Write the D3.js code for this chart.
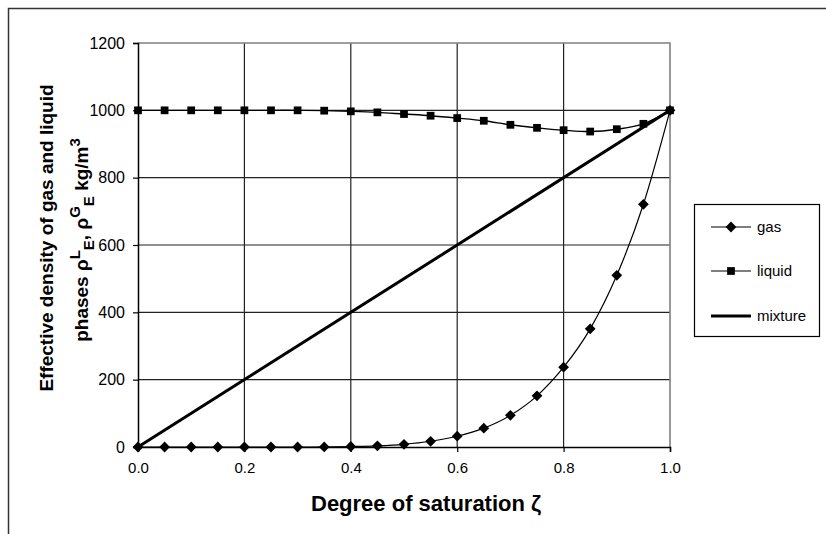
<!DOCTYPE html>
<html>
<head>
<meta charset="utf-8">
<script src="https://cdn.jsdelivr.net/npm/d3@7"></script>
<style>
  body { margin: 0; background: #fff; }
  text { font-family: Arial, "Liberation Sans", sans-serif; fill: #000; }
</style>
</head>
<body>
<div id="chart"></div>
<script>
// data
var zeta = [0, 0.05, 0.1, 0.15, 0.2, 0.25, 0.3, 0.35, 0.4, 0.45, 0.5,
            0.55, 0.6, 0.65, 0.7, 0.75, 0.8, 0.85, 0.9, 0.95, 1.0];
var gas = [0, 0, 0, 0, 0, 0, 0, 0.3, 1.5, 3.5, 8,
           17, 32, 56, 94, 152, 237, 351, 510, 721, 1000];
var liquid = [1000, 1000, 1000, 1000, 1000, 1000, 1000, 999, 997, 994, 989,
              984, 977, 969, 957, 948, 941, 937, 944, 960, 1000];
var mixtureZeta = [0, 1];
var mixture = [0, 1000];
var xTicks = [0, 0.2, 0.4, 0.6, 0.8, 1.0];
var yTicks = [0, 200, 400, 600, 800, 1000, 1200];
var seriesNames = ["gas", "liquid", "mixture"];

var W = 826, H = 534;
// plot area (note: "top" is taken by window.top)
var pLeft = 138, pRight = 670, pTop = 43, pBottom = 447;

var svg = d3.select("#chart").append("svg")
    .attr("width", W)
    .attr("height", H);

// outer chart border
svg.append("rect")
    .attr("x", 8.5).attr("y", 8.5)
    .attr("width", W + 20).attr("height", H + 20)
    .attr("fill", "none")
    .attr("stroke", "#333")
    .attr("stroke-width", 1.5);

var x = d3.scaleLinear().domain([0, 1]).range([pLeft, pRight]);
var y = d3.scaleLinear().domain([0, 1200]).range([pBottom, pTop]);

// gridlines
svg.append("g").selectAll("line")
    .data(yTicks.slice(1, -1))
    .enter().append("line")
    .attr("x1", pLeft).attr("x2", pRight)
    .attr("y1", function(d) { return y(d); })
    .attr("y2", function(d) { return y(d); })
    .attr("stroke", "#222").attr("stroke-width", 1.2);

svg.append("g").selectAll("line")
    .data(xTicks.slice(1, -1))
    .enter().append("line")
    .attr("y1", pTop).attr("y2", pBottom)
    .attr("x1", function(d) { return x(d); })
    .attr("x2", function(d) { return x(d); })
    .attr("stroke", "#222").attr("stroke-width", 1.2);

// plot frame top/right in gray
svg.append("path")
    .attr("d", "M" + pLeft + "," + pTop + "H" + pRight + "V" + pBottom)
    .attr("fill", "none")
    .attr("stroke", "#808080")
    .attr("stroke-width", 1.6);

// axes
var yAxis = d3.axisLeft(y).tickValues(yTicks).tickSize(5).tickPadding(8)
    .tickFormat(d3.format("d"));
var xAxis = d3.axisBottom(x).tickValues(xTicks).tickSize(5).tickPadding(10)
    .tickFormat(d3.format(".1f"));

var gy = svg.append("g").attr("transform", "translate(" + pLeft + ",0)").call(yAxis);
var gx = svg.append("g").attr("transform", "translate(0," + pBottom + ")").call(xAxis);

[gx, gy].forEach(function(g) {
  g.attr("font-size", null).attr("font-family", null);
  g.select(".domain").attr("stroke", "#000").attr("stroke-width", 1.5);
  g.selectAll(".tick line").attr("stroke", "#000").attr("stroke-width", 1.2);
  g.selectAll(".tick text")
    .style("font-size", "15px")
    .attr("fill", "#000");
});
gy.selectAll(".tick text").style("font-size", "16px");

// series
var lineGen = d3.line()
    .x(function(d) { return x(d[0]); })
    .y(function(d) { return y(d[1]); })
    .curve(d3.curveCatmullRom.alpha(0));

var gasPts = zeta.map(function(z, i) { return [z, gas[i]]; });
var liqPts = zeta.map(function(z, i) { return [z, liquid[i]]; });
var mixPts = mixtureZeta.map(function(z, i) { return [z, mixture[i]]; });

var diamond = d3.symbol().type(d3.symbolSquare).size(58);
var square = d3.symbol().type(d3.symbolSquare).size(60);

svg.append("path")
    .attr("d", lineGen(gasPts))
    .attr("fill", "none").attr("stroke", "#000").attr("stroke-width", 1.2);

svg.append("g").selectAll("path")
    .data(gasPts)
    .enter().append("path")
    .attr("d", diamond)
    .attr("transform", function(d) {
      return "translate(" + x(d[0]) + "," + y(d[1]) + ") rotate(45)";
    })
    .attr("fill", "#000");

svg.append("path")
    .attr("d", lineGen(liqPts))
    .attr("fill", "none").attr("stroke", "#000").attr("stroke-width", 1.4);

svg.append("g").selectAll("path")
    .data(liqPts)
    .enter().append("path")
    .attr("d", square)
    .attr("transform", function(d) {
      return "translate(" + x(d[0]) + "," + y(d[1]) + ")";
    })
    .attr("fill", "#000");

svg.append("path")
    .attr("d", d3.line()
      .x(function(d) { return x(d[0]); })
      .y(function(d) { return y(d[1]); })(mixPts))
    .attr("fill", "none").attr("stroke", "#000").attr("stroke-width", 3);

// legend
var lg = svg.append("g");
lg.append("rect")
    .attr("x", 694.5).attr("y", 204.5)
    .attr("width", 125).attr("height", 132)
    .attr("fill", "#fff").attr("stroke", "#000").attr("stroke-width", 1.2);

var legY = [227, 271, 316];
seriesNames.forEach(function(name, i) {
  var yy = legY[i];
  lg.append("line")
    .attr("x1", 711).attr("x2", 751)
    .attr("y1", yy).attr("y2", yy)
    .attr("stroke", "#000")
    .attr("stroke-width", i == 2 ? 3 : 1.2);
  if (i == 0) {
    lg.append("path").attr("d", diamond)
      .attr("transform", "translate(731," + yy + ") rotate(45)").attr("fill", "#000");
  } else if (i == 1) {
    lg.append("path").attr("d", square)
      .attr("transform", "translate(731," + yy + ")").attr("fill", "#000");
  }
  lg.append("text")
    .attr("x", 757).attr("y", yy)
    .attr("dy", "0.35em")
    .style("font-size", "15px")
    .text(name);
});

// axis titles
svg.append("text")
    .attr("x", 311).attr("y", 511)
    .style("font-size", "22px").style("font-weight", "bold")
    .text("Degree of saturation ζ");

var yt = svg.append("g")
    .attr("transform", "translate(0,238) rotate(-90)");

yt.append("text")
    .attr("x", 0).attr("y", 53)
    .attr("text-anchor", "middle")
    .style("font-size", "19px").style("font-weight", "bold")
    .text("Effective density of gas and liquid");

var t2 = yt.append("text")
    .attr("x", -2).attr("y", 88)
    .attr("text-anchor", "middle")
    .style("font-size", "19px").style("font-weight", "bold");
t2.append("tspan").text("phases ρ");
t2.append("tspan").attr("dy", -8).style("font-size", "15px").text("L");
t2.append("tspan").attr("dy", 14).style("font-size", "15px").text("E");
t2.append("tspan").attr("dy", -6).text(", ρ");
t2.append("tspan").attr("dy", -8).style("font-size", "15px").text("G");
t2.append("tspan").attr("dy", 14).style("font-size", "15px").text("E");
t2.append("tspan").attr("dy", -6).text(" kg/m");
t2.append("tspan").attr("dy", -8).style("font-size", "15px").text("3");
</script>
</body>
</html>
